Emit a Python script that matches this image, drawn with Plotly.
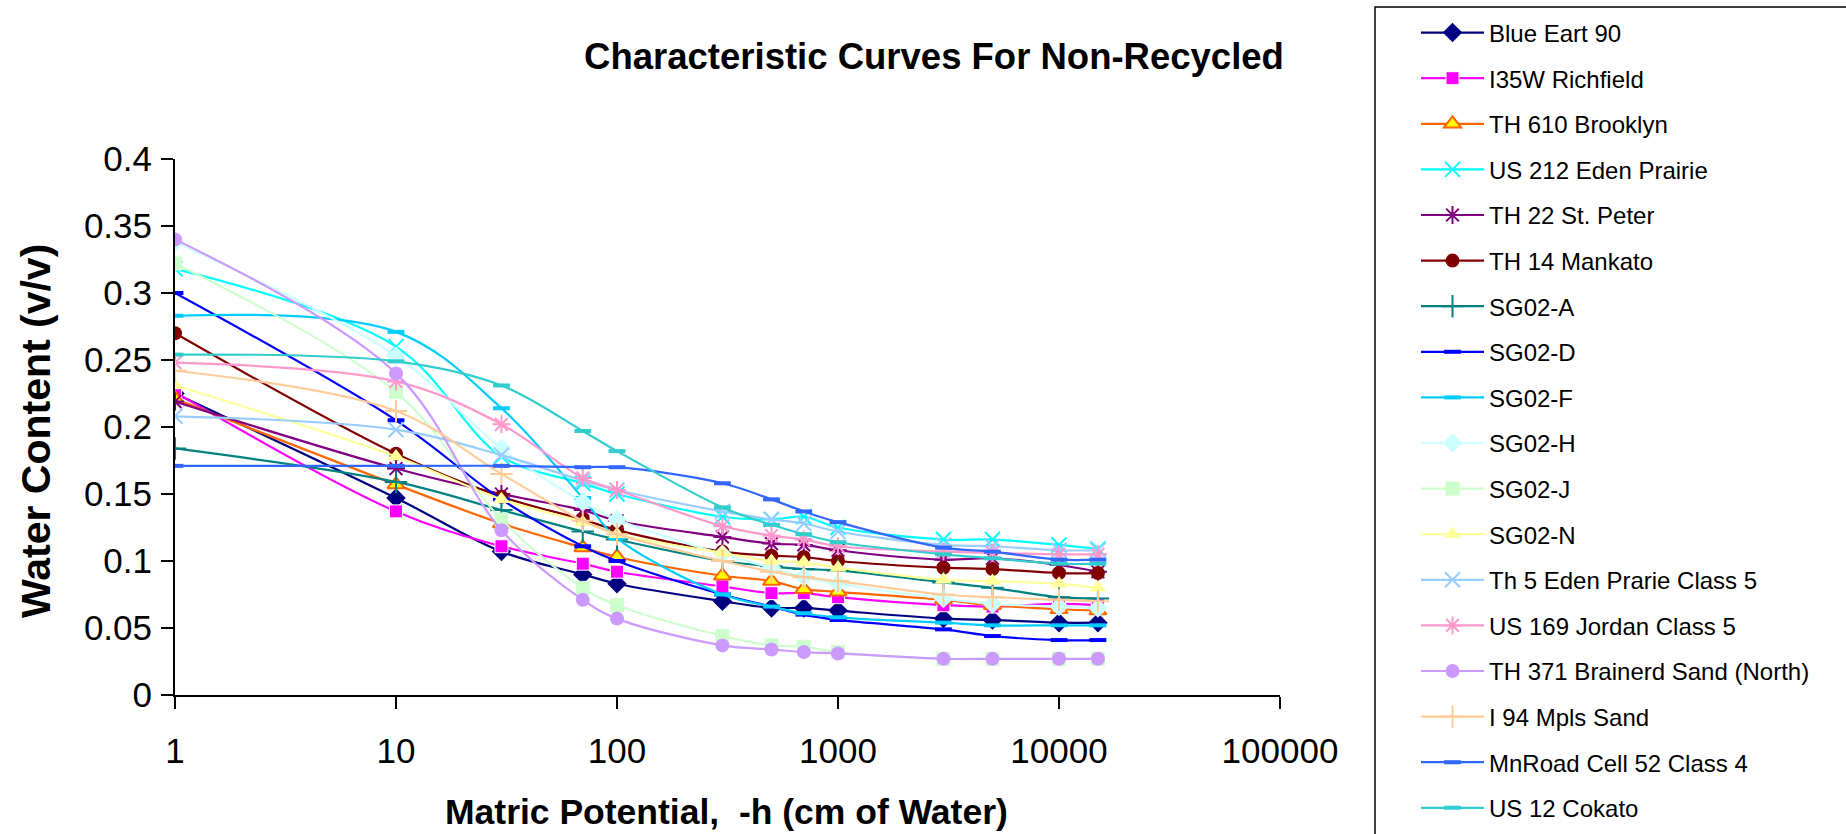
import plotly.graph_objects as go

# ---------------- data ----------------
potential = [1, 10, 30, 70, 100, 300, 500, 700, 1000, 3000, 5000, 10000, 15000]

x_tick_vals = [1, 10, 100, 1000, 10000, 100000]
x_tick_text = ["1", "10", "100", "1000", "10000", "100000"]

names = [
    "Blue Eart 90", "I35W Richfield", "TH 610 Brooklyn", "US 212 Eden Prairie",
    "TH 22 St. Peter", "TH 14 Mankato", "SG02-A", "SG02-D", "SG02-F", "SG02-H",
    "SG02-J", "SG02-N", "Th 5 Eden Prarie Class 5", "US 169 Jordan Class 5",
    "TH 371 Brainerd Sand (North)", "I 94 Mpls Sand", "MnRoad Cell 52 Class 4",
    "US 12 Cokato",
]

blue_earth_90 = [0.225, 0.147, 0.107, 0.090, 0.083, 0.070, 0.065, 0.065, 0.063, 0.057, 0.056, 0.054, 0.054]
i35w_richfield = [0.226, 0.137, 0.111, 0.098, 0.092, 0.081, 0.076, 0.076, 0.073, 0.067, 0.066, 0.068, 0.067]
th610_brooklyn = [0.221, 0.157, 0.128, 0.110, 0.103, 0.089, 0.085, 0.079, 0.077, 0.071, 0.067, 0.064, 0.063]
us212_eden = [0.318, 0.260, 0.178, 0.158, 0.150, 0.133, 0.131, 0.133, 0.125, 0.116, 0.116, 0.112, 0.109]
th22_stpeter = [0.219, 0.169, 0.150, 0.138, 0.130, 0.118, 0.113, 0.112, 0.108, 0.101, 0.102, 0.097, 0.092]
th14_mankato = [0.270, 0.180, 0.148, 0.131, 0.123, 0.107, 0.104, 0.103, 0.100, 0.095, 0.094, 0.091, 0.091]
sg02_a = [0.184, 0.159, 0.138, 0.122, 0.116, 0.100, 0.096, 0.094, 0.093, 0.084, 0.080, 0.073, 0.072]
sg02_d = [0.300, 0.205, 0.146, 0.111, 0.100, 0.075, 0.066, 0.060, 0.056, 0.049, 0.044, 0.041, 0.041]
sg02_f = [0.283, 0.271, 0.214, 0.147, 0.117, 0.075, 0.066, 0.061, 0.058, 0.054, 0.052, 0.052, 0.052]
sg02_h = [0.338, 0.253, 0.184, 0.144, 0.131, 0.105, 0.095, 0.088, 0.083, 0.072, 0.068, 0.066, 0.065]
sg02_j = [0.322, 0.226, 0.131, 0.080, 0.067, 0.044, 0.037, 0.036, 0.032, 0.027, 0.027, 0.027, 0.027]
sg02_n = [0.231, 0.178, 0.146, 0.129, 0.120, 0.106, 0.100, 0.099, 0.095, 0.086, 0.085, 0.083, 0.080]
th5_eden = [0.208, 0.198, 0.179, 0.160, 0.153, 0.137, 0.131, 0.128, 0.122, 0.112, 0.111, 0.108, 0.108]
us169_jordan = [0.248, 0.234, 0.202, 0.162, 0.153, 0.126, 0.119, 0.116, 0.111, 0.107, 0.106, 0.105, 0.105]
th371_brainerd = [0.340, 0.240, 0.123, 0.071, 0.057, 0.037, 0.034, 0.032, 0.031, 0.027, 0.027, 0.027, 0.027]
i94_mpls = [0.242, 0.212, 0.165, 0.130, 0.120, 0.100, 0.092, 0.088, 0.085, 0.075, 0.073, 0.071, 0.070]
mnroad_52 = [0.171, 0.171, 0.171, 0.170, 0.170, 0.158, 0.146, 0.137, 0.129, 0.110, 0.107, 0.101, 0.101]
us12_cokato = [0.254, 0.249, 0.231, 0.197, 0.182, 0.140, 0.127, 0.120, 0.114, 0.105, 0.102, 0.098, 0.098]

series_values = [
    blue_earth_90, i35w_richfield, th610_brooklyn, us212_eden, th22_stpeter,
    th14_mankato, sg02_a, sg02_d, sg02_f, sg02_h, sg02_j, sg02_n, th5_eden,
    us169_jordan, th371_brainerd, i94_mpls, mnroad_52, us12_cokato,
]

# ---------------- styles ----------------
line_colors = [
    "#000080", "#FF00FF", "#FF6600", "#00FFFF", "#800080", "#800000", "#008080",
    "#0000FF", "#00CCFF", "#CCFFFF", "#CCFFCC", "#FFFF99", "#99CCFF", "#FF99CC",
    "#CC99FF", "#FFCC99", "#3366FF", "#33CCCC",
]
symbols = [
    "diamond", "square", "triangle-up", "x-thin", "asterisk", "circle",
    "cross-thin", "line-ew", "line-ew", "diamond", "square", "triangle-up",
    "x-thin", "asterisk", "circle", "cross-thin", "line-ew", "line-ew",
]
fill_colors = list(line_colors)
fill_colors[2] = "#FFFF00"
marker_line_colors = list(line_colors)
marker_line_colors[1] = "#FFFFFF"
marker_sizes = [15, 13, 15, 15, 15, 14, 16, 12, 12, 15, 13, 15, 15, 15, 14, 16, 12, 12]
marker_line_widths = [0, 1, 2, 2, 2, 0, 2, 4, 4, 0, 1, 0, 2, 2, 0, 2, 4, 4]

FONT = "Liberation Sans, Arial, sans-serif"

fig = go.Figure()
for i, (name, vals) in enumerate(zip(names, series_values)):
    fig.add_trace(go.Scatter(
        x=potential, y=vals, name=name, mode="lines+markers",
        legendgroup=name,
        line=dict(color=line_colors[i], width=2.2, shape="spline", smoothing=1.0),
        marker=dict(
            symbol=symbols[i], size=marker_sizes[i], color=fill_colors[i],
            line=dict(color=marker_line_colors[i], width=marker_line_widths[i]),
        ),
    ))

# plot-area geometry (pixels)
W, H = 1846, 834
L, R, T, B = 175, 1280, 159, 695
pw, ph = R - L, B - T

def px_x(p):
    return (p - L) / pw

def px_y(p):
    return (B - p) / ph

fig.update_layout(
    width=W, height=H,
    margin=dict(l=L, r=W - R, t=T, b=H - B, pad=0, autoexpand=False),
    paper_bgcolor="white", plot_bgcolor="white",
    font=dict(family=FONT, color="black"),
    showlegend=True,
    title=dict(
        text="<b>Characteristic Curves For Non-Recycled</b>",
        x=934 / W, xanchor="center", y=1 - 56 / H, yanchor="middle",
        font=dict(size=36.5, family=FONT, color="black"),
    ),
    xaxis=dict(
        type="log", range=[0, 5],
        tickvals=x_tick_vals, ticktext=x_tick_text,
        showgrid=False, zeroline=False,
        showline=True, linecolor="black", linewidth=2,
        ticks="outside", ticklen=12, tickwidth=2, tickcolor="black",
        tickfont=dict(size=35, family=FONT, color="black"),
        ticklabelstandoff=12,
    ),
    yaxis=dict(
        range=[0, 0.4], dtick=0.05, tick0=0,
        showgrid=False, zeroline=False,
        showline=True, linecolor="black", linewidth=2,
        ticks="outside", ticklen=12, tickwidth=2, tickcolor="black",
        tickfont=dict(size=35, family=FONT, color="black"),
        ticklabelstandoff=2,
    ),
    legend=dict(
        xref="container", yref="container",
        x=1416 / W, xanchor="left", y=1 - 10.5 / H, yanchor="top",
        font=dict(size=24, family=FONT, color="black"),
        bgcolor="rgba(0,0,0,0)", borderwidth=0,
        tracegroupgap=11.4, itemwidth=63, maxheight=1000,
    ),
    annotations=[
        dict(text="<b>Water Content (v/v)</b>", textangle=-90,
             xref="paper", yref="paper", x=px_x(36), y=px_y(431),
             xanchor="center", yanchor="middle", showarrow=False,
             font=dict(size=41, family=FONT, color="black")),
        dict(text="<b>Matric Potential,  -h (cm of Water)</b>",
             xref="paper", yref="paper", x=px_x(726), y=px_y(812),
             xanchor="center", yanchor="middle", showarrow=False,
             font=dict(size=35.5, family=FONT, color="black")),
    ],
    shapes=[
        dict(type="rect", xref="paper", yref="paper",
             x0=px_x(1375), x1=px_x(1900), y0=px_y(900), y1=px_y(7),
             line=dict(color="black", width=1.5), fillcolor="rgba(0,0,0,0)",
             layer="below"),
    ],
)

fig.write_html("out.html")
